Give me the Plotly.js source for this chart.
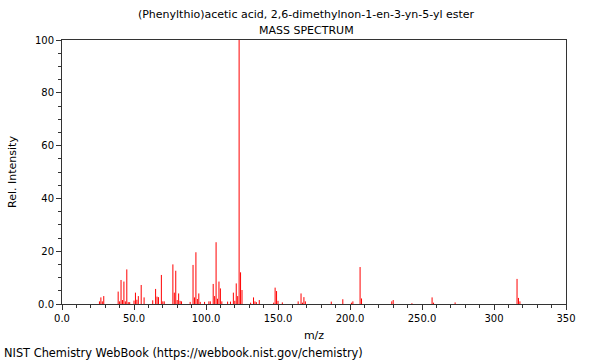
<!DOCTYPE html>
<html>
<head>
<meta charset="utf-8">
<script src="https://cdn.plot.ly/plotly-3.0.1.min.js"></script>
<style>html,body{margin:0;padding:0;background:#fff;}#chart{width:600px;height:360px;}</style>
</head>
<body>
<div id="chart"></div>
<script>
// m/z values and relative intensities
var mz = [26, 27, 28, 29, 39, 40, 41, 42, 43, 44, 45, 46, 47, 50, 51, 52, 53, 55, 57,
  63, 65, 66, 67, 69, 70, 71, 77, 78, 79, 80, 81, 82, 83, 89, 91, 92, 93, 94, 95, 96, 99,
  102, 103, 105, 106, 107, 108, 109, 110, 111, 115, 117, 119, 120, 121, 122, 123, 124, 125,
  131, 133, 134, 135, 137, 147, 148, 149, 150, 153, 164, 166, 167, 168, 169, 187, 195,
  201, 202, 207, 208, 229, 230, 243, 257, 258, 273, 316, 317, 318];
var intensity = [1.0, 2.5, 1.0, 3.0, 4.7, 1.0, 9.1, 1.5, 8.5, 1.0, 13.1, 0.7, 0.7, 1.3, 4.3, 1.6, 3.0, 7.2, 2.5,
  1.4, 5.7, 2.8, 2.6, 11.0, 1.0, 1.0, 15.0, 4.3, 12.6, 1.5, 4.0, 1.2, 1.0, 0.8, 14.8, 2.5, 19.6, 1.9, 4.0, 0.8, 0.8,
  1.0, 1.0, 7.6, 3.0, 23.4, 2.0, 8.5, 5.9, 1.0, 0.9, 0.9, 4.3, 1.2, 7.8, 3.0, 100, 12.0, 5.3,
  0.5, 2.5, 1.0, 0.7, 1.5, 0.5, 6.2, 4.9, 1.2, 0.6, 1.0, 4.0, 0.5, 2.6, 1.0, 0.9, 1.8,
  0.5, 1.0, 14.0, 2.1, 1.0, 1.5, 0.3, 2.5, 0.5, 0.6, 9.5, 2.3, 1.0];
var xTickVals = [0, 50, 100, 150, 200, 250, 300, 350];
var xTickText = ["0.0", "50.0", "100.0", "150.0", "200.0", "250.0", "300", "350"];
var yTickVals = [0, 20, 40, 60, 80, 100];
var yTickText = ["0.0", "20", "40", "60", "80", "100"];
var titleLine1 = "(Phenylthio)acetic acid, 2,6-dimethylnon-1-en-3-yn-5-yl ester";
var titleLine2 = "MASS SPECTRUM";
var footer = "NIST Chemistry WebBook (https://webbook.nist.gov/chemistry)";

var sx = [], sy = [];
for (var i = 0; i < mz.length; i++) {
  sx.push(mz[i], mz[i], null);
  sy.push(0, intensity[i], null);
}

var fam = "DejaVu Sans, sans-serif";
var tickFont = {family: fam, size: 10, color: "#000"};
var labFont = {family: fam, size: 11, color: "#000"};
var footFont = {family: fam, size: 11.4, color: "#000"};
var trace = {
  x: sx, y: sy, type: "scatter", mode: "lines",
  line: {color: "rgb(255,0,0)", width: 1},
  hoverinfo: "skip", showlegend: false
};
var layout = {
  width: 600, height: 360,
  margin: {l: 62, r: 34, t: 40, b: 56, pad: 0},
  paper_bgcolor: "#fff", plot_bgcolor: "#fff",
  font: tickFont,
  title: {text: titleLine1, font: labFont, x: 306/600, xref: "container", xanchor: "center",
          y: 1 - 14/360, yref: "container", yanchor: "middle"},
  xaxis: {
    range: [0, 350], showgrid: false, zeroline: false,
    showline: true, linecolor: "#333", linewidth: 1, mirror: true,
    ticks: "outside", ticklen: 5, tickcolor: "#333", tickwidth: 1,
    tickvals: xTickVals, ticktext: xTickText, tickfont: tickFont,
    minor: {dtick: 10, tick0: 0, ticks: "outside", ticklen: 3, tickcolor: "#333", showgrid: false},
    title: {text: "m/z", font: labFont, standoff: 8}
  },
  yaxis: {
    range: [0, 100], showgrid: false, zeroline: false,
    showline: true, linecolor: "#333", linewidth: 1, mirror: true,
    ticks: "outside", ticklen: 5, tickcolor: "#333", tickwidth: 1,
    tickvals: yTickVals, ticktext: yTickText, tickfont: tickFont,
    minor: {dtick: 5, tick0: 0, ticks: "outside", ticklen: 3, tickcolor: "#333", showgrid: false},
    title: {text: "Rel. Intensity", font: labFont, standoff: 16}
  },
  annotations: [
    {text: titleLine2, xref: "paper", yref: "paper", x: (306 - 62)/504, y: 1 + 10/264,
     xanchor: "center", yanchor: "middle", showarrow: false, font: labFont},
    {text: footer, xref: "paper", yref: "paper", x: -60/504, y: -49/264,
     xanchor: "left", yanchor: "middle", showarrow: false, font: footFont}
  ]
};
Plotly.newPlot("chart", [trace], layout, {staticPlot: true, displayModeBar: false});
</script>
</body>
</html>
